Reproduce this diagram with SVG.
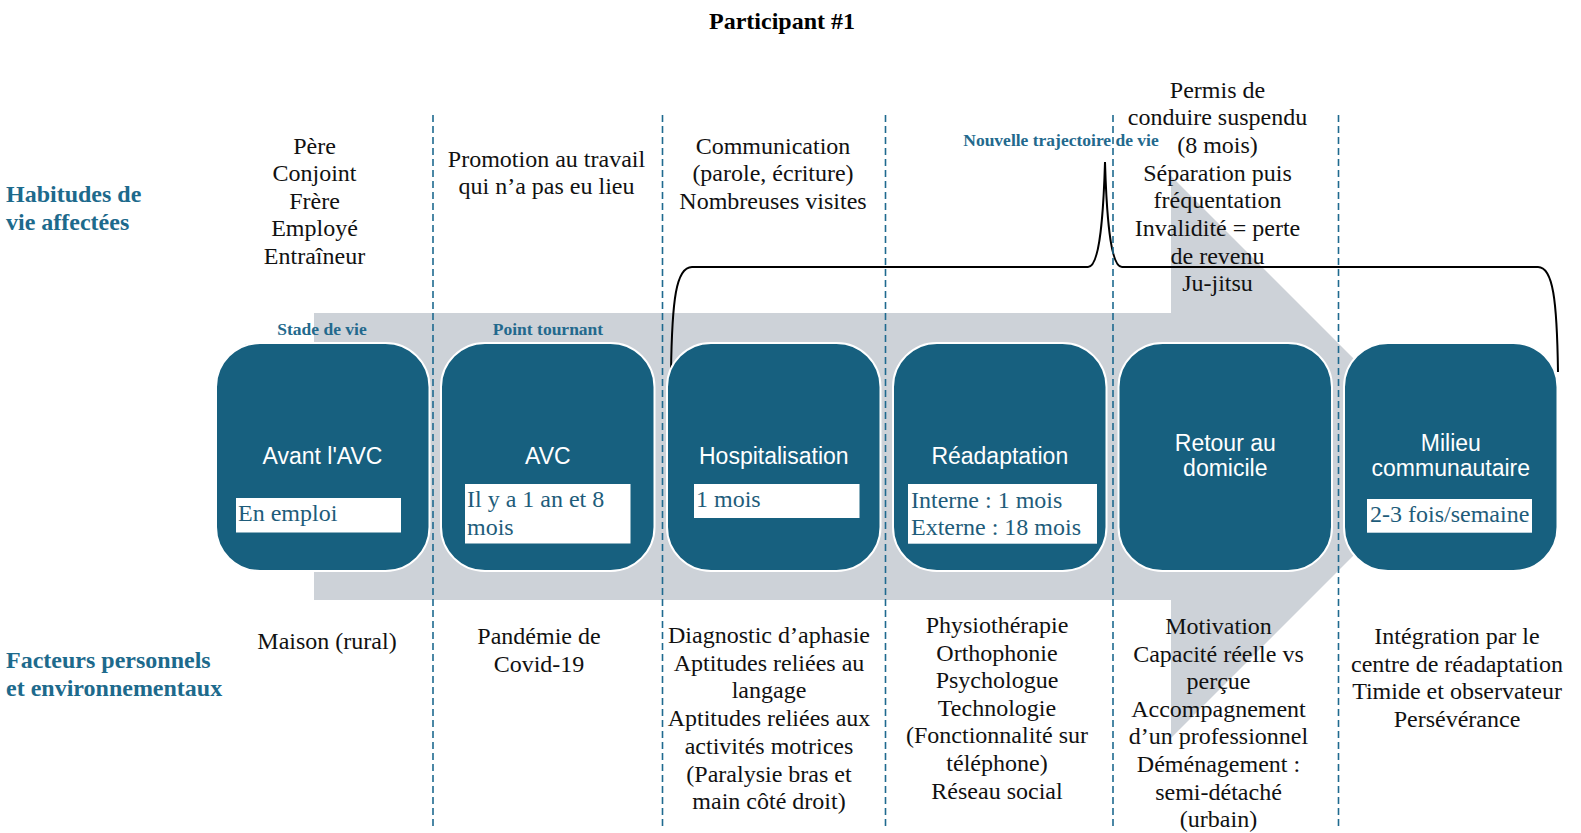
<svg xmlns="http://www.w3.org/2000/svg" width="1581" height="833" viewBox="0 0 1581 833">
  <style>
    .title { font-family: "Liberation Serif", "Times New Roman", serif; font-weight: bold; font-size: 24px; fill: #000; }
    .side { font-family: "Liberation Serif", "Times New Roman", serif; font-weight: bold; font-size: 24px; fill: #1d6a8c; }
    .tag { font-family: "Liberation Serif", "Times New Roman", serif; font-weight: bold; font-size: 17.5px; fill: #23698d; text-anchor: middle; }
    .body { font-family: "Liberation Serif", "Times New Roman", serif; font-size: 24px; fill: #111; text-anchor: middle; }
    .stage { fill: #17607f; stroke: #ffffff; stroke-width: 2; }
    .stage-label { font-family: "Liberation Sans", Arial, sans-serif; font-size: 23px; fill: #ffffff; text-anchor: middle; }
    .note-box { fill: #ffffff; }
    .note { font-family: "Liberation Serif", "Times New Roman", serif; font-size: 24px; fill: #1e5c7a; }
    .divider { stroke: #1f6a8f; stroke-width: 1.6; stroke-dasharray: 7 4; fill: none; }
    .brace { stroke: #000; stroke-width: 2; fill: none; }
  </style>

  <rect width="1581" height="833" fill="#ffffff"/>

  <!-- timeline arrow behind the stages -->
  <polygon id="timeline-arrow" points="314,313 1171,313 1171,176 1452,457 1171,738 1171,600 314,600" fill="#cdd2d8"/>

  <!-- title and row headings -->
  <text class="title" x="782" y="29" text-anchor="middle">Participant #1</text>
  <text class="side" x="6" y="202">Habitudes de</text>
  <text class="side" x="6" y="230">vie affectées</text>
  <text class="side" x="6" y="668">Facteurs personnels</text>
  <text class="side" x="6" y="696">et environnementaux</text>

  <!-- stage tags -->
  <text class="tag" x="322" y="335">Stade de vie</text>
  <text class="tag" x="548" y="335">Point tournant</text>

  <!-- brace grouping the post-event stages -->
  <g id="brace">
    <path class="brace" d="M671,372 C672,300 676,267 692,267 L1088,267 C1098,267 1103,230 1105,162 C1107,230 1112,267 1122,267 L1538,267 C1553,267 1557,300 1558,372"/>
    <text class="tag" x="1061" y="146">Nouvelle trajectoire de vie</text>
  </g>

  <!-- column dividers -->
  <g id="dividers">
    <line class="divider" x1="433" y1="115" x2="433" y2="826"/>
    <line class="divider" x1="662.5" y1="115" x2="662.5" y2="826"/>
    <line class="divider" x1="885.5" y1="115" x2="885.5" y2="826"/>
    <line class="divider" x1="1113" y1="115" x2="1113" y2="826"/>
    <line class="divider" x1="1338.5" y1="115" x2="1338.5" y2="826"/>
  </g>

  <!-- stages -->
  <g id="stage-avant-avc">
    <rect class="stage" x="216" y="343" width="213.5" height="228" rx="44"/>
    <text class="stage-label" x="322.5" y="464">Avant l'AVC</text>
    <rect class="note-box" x="236" y="498" width="165" height="34.5"/>
    <text class="note" x="238" y="521">En emploi</text>
  </g>
  <g id="stage-avc">
    <rect class="stage" x="441" y="343" width="213.5" height="228" rx="44"/>
    <text class="stage-label" x="547.8" y="464">AVC</text>
    <rect class="note-box" x="465" y="484" width="165.5" height="59.5"/>
    <text class="note" x="467" y="507">Il y a 1 an et 8</text>
    <text class="note" x="467" y="534.5">mois</text>
  </g>
  <g id="stage-hospitalisation">
    <rect class="stage" x="667" y="343" width="213.5" height="228" rx="44"/>
    <text class="stage-label" x="773.8" y="464">Hospitalisation</text>
    <rect class="note-box" x="694" y="484" width="165.5" height="34"/>
    <text class="note" x="696" y="507">1 mois</text>
  </g>
  <g id="stage-readaptation">
    <rect class="stage" x="893" y="343" width="213.5" height="228" rx="44"/>
    <text class="stage-label" x="999.8" y="464">Réadaptation</text>
    <rect class="note-box" x="908" y="484" width="189" height="59.7"/>
    <text class="note" x="911" y="508">Interne : 1 mois</text>
    <text class="note" x="911" y="535">Externe : 18 mois</text>
  </g>
  <g id="stage-retour-domicile">
    <rect class="stage" x="1118.5" y="343" width="213.5" height="228" rx="44"/>
    <text class="stage-label" x="1225.3" y="451">Retour au</text>
    <text class="stage-label" x="1225.3" y="476">domicile</text>
  </g>
  <g id="stage-milieu-communautaire">
    <rect class="stage" x="1344" y="343" width="213.5" height="228" rx="44"/>
    <text class="stage-label" x="1450.8" y="451">Milieu</text>
    <text class="stage-label" x="1450.8" y="476">communautaire</text>
    <rect class="note-box" x="1367" y="499" width="165" height="33.7"/>
    <text class="note" x="1370" y="522">2-3 fois/semaine</text>
  </g>

  <!-- affected life habits (upper row) -->
  <g id="habits">
    <text class="body" x="314.5" y="153.5">Père</text>
    <text class="body" x="314.5" y="181">Conjoint</text>
    <text class="body" x="314.5" y="208.5">Frère</text>
    <text class="body" x="314.5" y="236">Employé</text>
    <text class="body" x="314.5" y="263.5">Entraîneur</text>

    <text class="body" x="546.5" y="166.5">Promotion au travail</text>
    <text class="body" x="546.5" y="194">qui n’a pas eu lieu</text>

    <text class="body" x="773" y="153.5">Communication</text>
    <text class="body" x="773" y="181">(parole, écriture)</text>
    <text class="body" x="773" y="208.5">Nombreuses visites</text>

    <text class="body" x="1217.5" y="97.5">Permis de</text>
    <text class="body" x="1217.5" y="125.2">conduire suspendu</text>
    <text class="body" x="1217.5" y="152.9">(8 mois)</text>
    <text class="body" x="1217.5" y="180.6">Séparation puis</text>
    <text class="body" x="1217.5" y="208.3">fréquentation</text>
    <text class="body" x="1217.5" y="236">Invalidité = perte</text>
    <text class="body" x="1217.5" y="263.7">de revenu</text>
    <text class="body" x="1217.5" y="291.4">Ju-jitsu</text>
  </g>

  <!-- personal and environmental factors (lower row) -->
  <g id="factors">
    <text class="body" x="327" y="649">Maison (rural)</text>

    <text class="body" x="539" y="644">Pandémie de</text>
    <text class="body" x="539" y="671.6">Covid-19</text>

    <text class="body" x="769" y="643">Diagnostic d’aphasie</text>
    <text class="body" x="769" y="670.7">Aptitudes reliées au</text>
    <text class="body" x="769" y="698.4">langage</text>
    <text class="body" x="769" y="726.1">Aptitudes reliées aux</text>
    <text class="body" x="769" y="753.8">activités motrices</text>
    <text class="body" x="769" y="781.5">(Paralysie bras et</text>
    <text class="body" x="769" y="809.2">main côté droit)</text>

    <text class="body" x="997" y="633">Physiothérapie</text>
    <text class="body" x="997" y="660.6">Orthophonie</text>
    <text class="body" x="997" y="688.2">Psychologue</text>
    <text class="body" x="997" y="715.8">Technologie</text>
    <text class="body" x="997" y="743.4">(Fonctionnalité sur</text>
    <text class="body" x="997" y="771">téléphone)</text>
    <text class="body" x="997" y="798.6">Réseau social</text>

    <text class="body" x="1218.5" y="634">Motivation</text>
    <text class="body" x="1218.5" y="661.6">Capacité réelle vs</text>
    <text class="body" x="1218.5" y="689.2">perçue</text>
    <text class="body" x="1218.5" y="716.8">Accompagnement</text>
    <text class="body" x="1218.5" y="744.4">d’un professionnel</text>
    <text class="body" x="1218.5" y="772">Déménagement :</text>
    <text class="body" x="1218.5" y="799.6">semi-détaché</text>
    <text class="body" x="1218.5" y="827.2">(urbain)</text>

    <text class="body" x="1457" y="644">Intégration par le</text>
    <text class="body" x="1457" y="671.6">centre de réadaptation</text>
    <text class="body" x="1457" y="699.2">Timide et observateur</text>
    <text class="body" x="1457" y="726.8">Persévérance</text>
  </g>
</svg>
